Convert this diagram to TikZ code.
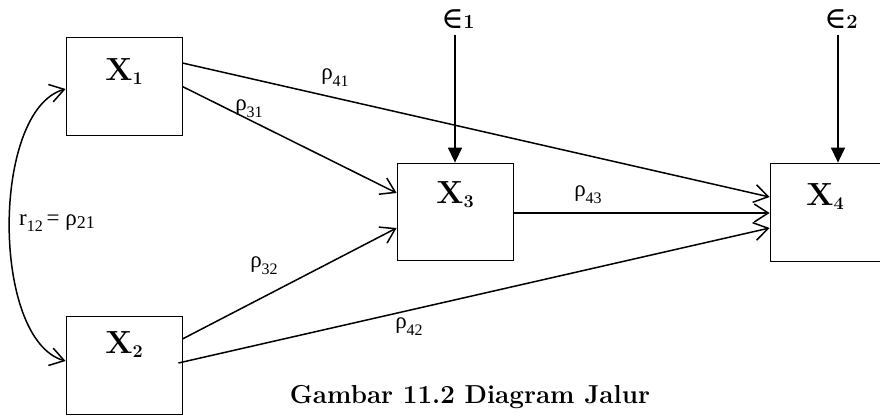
\RequirePackage{fix-cm}
\documentclass[tikz,border=0pt]{standalone}
\usepackage{fontspec}
\usepackage{graphicx}
\usepackage{tikz}
\usetikzlibrary{positioning, arrows.meta, calc}

\newfontfamily\coeffont{Liberation Serif}
\newfontfamily\errfont{DejaVu Serif}
\newcommand{\varname}[1]{X\raisebox{-4pt}{\fontsize{18}{20}\selectfont #1}}
\newcommand{\coefname}[1]{{\coeffont ρ\raisebox{-7pt}{\fontsize{16}{18}\selectfont #1}}}
\newcommand{\errname}[1]{{\errfont\fontsize{30}{32}\selectfont ∈}\textbf{\fontsize{20}{22}\selectfont #1}}

\tikzset{
  varbox/.style={draw, line width=0.8pt, minimum width=116pt, minimum height=98pt, inner sep=0pt},
  varlbl/.style={inner sep=0pt, font=\fontsize{32}{36}\selectfont\bfseries},
  coef/.style={inner sep=0pt, font=\fontsize{23}{26}\selectfont\coeffont},
  errlbl/.style={inner sep=0pt},
  pathto/.style={line width=1.5pt, -{Straight Barb[length=14pt, width=18pt, line width=1.5pt]}},
  corr/.style={line width=1.5pt, {Straight Barb[length=14pt, width=18pt, line width=1.5pt]}-{Straight Barb[length=14pt, width=18pt, line width=1.5pt]}},
  errto/.style={line width=1.5pt, -{Triangle[length=15pt, width=14pt]}}
}

\begin{document}
\begin{tikzpicture}[x=1pt, y=-1pt]
  \useasboundingbox (0,0) rectangle (880,415);

  % variables
  \node[varbox] (x1) at (124,86.5) {};
  \node[varbox] (x2) at (124,365) {};
  \node[varbox, minimum height=97pt] (x3) at (455,211.5) {};
  \node[varbox, minimum width=110pt] (x4) at (825,212) {};

  \node[varlbl, below=21pt of x1.north] (lx1) {\varname{1}};
  \node[varlbl, below=16pt of x2.north] (lx2) {\varname{2}};
  \node[varlbl, below=19pt of x3.north] (lx3) {\varname{3}};
  \node[varlbl, below=21pt of x4.north] (lx4) {\varname{4}};

  % error terms
  \node[errlbl] (e1) at (458,19) {\errname{1}};
  \node[errlbl] (e2) at (841,19) {\errname{2}};

  \draw[errto] ([yshift=-6pt]x3.north |- e1.south) -- (x3.north);
  \draw[errto] ([xshift=-3pt, yshift=-6pt]e2.south) -- ([xshift=-3pt]e2.south |- x4.north);

  % paths
  \draw[pathto] ([yshift=23.5pt]x1.east) -- ([yshift=15pt]x4.west);
  \draw[pathto] (x1.east) -- ([yshift=18.5pt]x3.west);
  \draw[pathto] ([yshift=26pt]x2.east) -- ([yshift=-16.5pt]x3.west);
  \draw[pathto] ([xshift=-4pt, yshift=2pt]x2.east) -- ([yshift=-16pt]x4.west);
  \draw[pathto] ([yshift=-1.5pt]x3.east) -- ([yshift=-1pt]x4.west);

  % correlation
  \draw[corr] ([yshift=-2.5pt]x1.west) .. controls (-9,110) and (-9,340) .. ([yshift=4pt]x2.west);

  % coefficients
  \node[coef] (p41) at (335,78) {\coefname{41}};
  \node[coef] (p31) at (249,109) {\coefname{31}};
  \node[coef] (p43) at (588,195) {\coefname{43}};
  \node[coef] (p32) at (264,266) {\coefname{32}};
  \node[coef] (p42) at (409,327) {\coefname{42}};
  \node[coef] (r12) at (57,223) {r\raisebox{-6pt}{\fontsize{16}{18}\selectfont 12}\,= ρ\raisebox{-3pt}{\fontsize{18}{20}\selectfont 21}};

  \node[inner sep=0pt] (cap) at (470,397) {\resizebox{360pt}{!}{\fontsize{26}{30}\selectfont\bfseries Gambar 11.2 Diagram Jalur}};
\end{tikzpicture}
\end{document}
